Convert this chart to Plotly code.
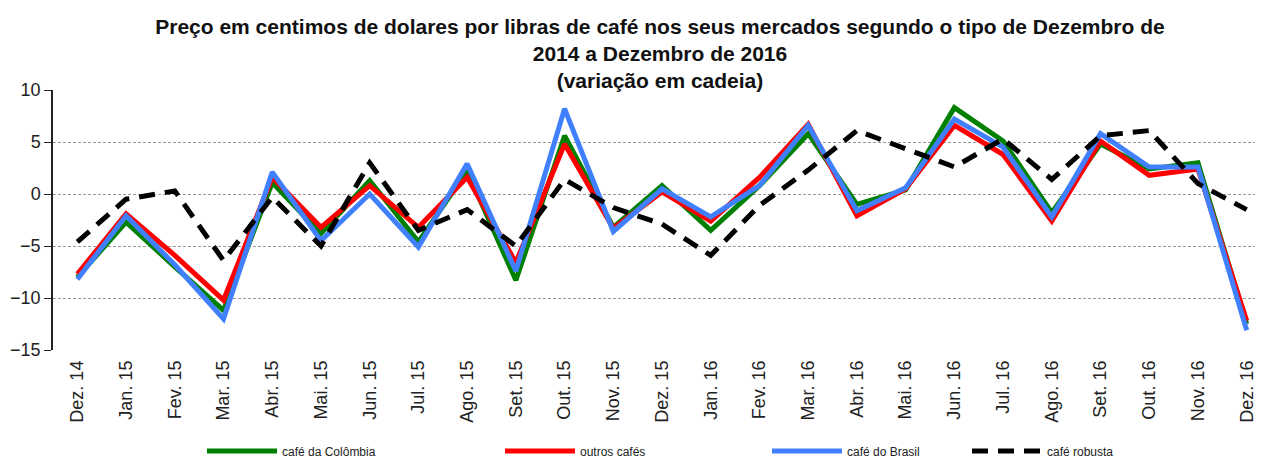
import plotly.graph_objects as go

meses = ["Dez. 14", "Jan. 15", "Fev. 15", "Mar. 15", "Abr. 15", "Mai. 15", "Jun. 15",
         "Jul. 15", "Ago. 15", "Set. 15", "Out. 15", "Nov. 15", "Dez. 15", "Jan. 16",
         "Fev. 16", "Mar. 16", "Abr. 16", "Mai. 16", "Jun. 16", "Jul. 16", "Ago. 16",
         "Set. 16", "Out. 16", "Nov. 16", "Dez. 16"]

cafe_colombia = [-8.0, -2.7, -7.0, -11.2, 1.1, -3.8, 1.3, -4.6, 2.2, -8.3, 5.6, -3.2, 0.8,
                 -3.5, 0.8, 5.8, -1.0, 0.4, 8.3, 5.1, -1.8, 4.8, 2.4, 3.0, -12.5]
outros_cafes = [-7.7, -1.9, -5.9, -10.2, 1.6, -3.2, 0.8, -3.2, 1.6, -6.6, 4.8, -3.3, 0.2,
                -2.6, 1.6, 6.7, -2.1, 0.5, 6.6, 3.8, -2.6, 5.1, 1.8, 2.4, -12.2]
cafe_brasil = [-8.2, -2.1, -6.8, -12.0, 2.1, -4.5, 0.0, -5.1, 2.9, -7.4, 8.2, -3.6, 0.5,
               -2.2, 0.8, 6.6, -1.6, 0.6, 7.2, 4.5, -2.2, 5.8, 2.6, 2.6, -13.1]
cafe_robusta = [-4.6, -0.5, 0.3, -6.4, -0.3, -5.0, 3.0, -3.5, -1.5, -5.0, 1.4, -1.3, -2.9,
                -5.9, -1.1, 2.3, 6.1, 4.3, 2.6, 5.3, 1.4, 5.6, 6.1, 1.0, -1.5]

titulo = ("Preço em centimos de dolares por libras de café nos seus mercados segundo o tipo de Dezembro de"
          "<br>2014 a Dezembro de 2016<br>(variação em cadeia)")

series = [
    ("café da Colômbia", cafe_colombia, "#008000", "solid", "legend"),
    ("outros cafés", outros_cafes, "#FF0000", "solid", "legend2"),
    ("café do Brasil", cafe_brasil, "#4080FF", "solid", "legend3"),
    ("café robusta", cafe_robusta, "#000000", "16px,10px", "legend4"),
]

fig = go.Figure()
for nome, vals, cor, dash, leg in series:
    fig.add_trace(go.Scatter(x=meses, y=vals, name=nome, mode="lines",
                             line=dict(color=cor, width=5, dash=dash), legend=leg))

# the page body has an 8px margin, so the figure is 8px smaller than the window
W, H = 1255, 450
x_range = [-0.5, 24.335]
fonte = "Liberation Sans, Arial, sans-serif"
leg_font = dict(family="Liberation Sans Narrow, Liberation Sans, Arial", size=12, color="#222")

def legenda(px):
    return dict(orientation="h", x=(px - 16) / W, xref="container", xanchor="left",
                y=0.0156, yref="container", yanchor="middle",
                font=leg_font, bgcolor="rgba(0,0,0,0)", itemwidth=70)

fig.update_layout(
    width=W, height=H,
    margin=dict(l=45, r=0, t=82, b=108),
    plot_bgcolor="white", paper_bgcolor="white",
    font=dict(family=fonte, color="#222"),
    showlegend=True,
    title=dict(text=titulo, x=0.5195, xanchor="center", y=0.943, yanchor="top",
               font=dict(family=fonte, size=21, color="#111", weight="bold")),
    legend=legenda(210),
    legend2=legenda(508),
    legend3=legenda(775),
    legend4=legenda(975),
    xaxis=dict(type="category", range=x_range, tickangle=-90, showline=False,
               showgrid=False, ticks="", tickfont=dict(size=18, color="#222"),
               ticklabelstandoff=6, automargin=False),
    xaxis2=dict(overlaying="x", anchor="free", position=0.6, range=x_range,
                tick0=0.5, dtick=1, ticks="outside", ticklen=7, tickcolor="#222",
                showline=True, linecolor="#222", linewidth=1.5,
                showticklabels=False, showgrid=False, zeroline=False),
    yaxis=dict(range=[-15, 10], dtick=5, showline=True, linecolor="#222", linewidth=1.5,
               ticks="outside", ticklen=7, tickcolor="#222",
               tickfont=dict(size=18, color="#222"), automargin=False,
               showgrid=True, gridcolor="#999", gridwidth=1, griddash="3px,2px",
               zeroline=False),
)

fig.write_html("out.html")
